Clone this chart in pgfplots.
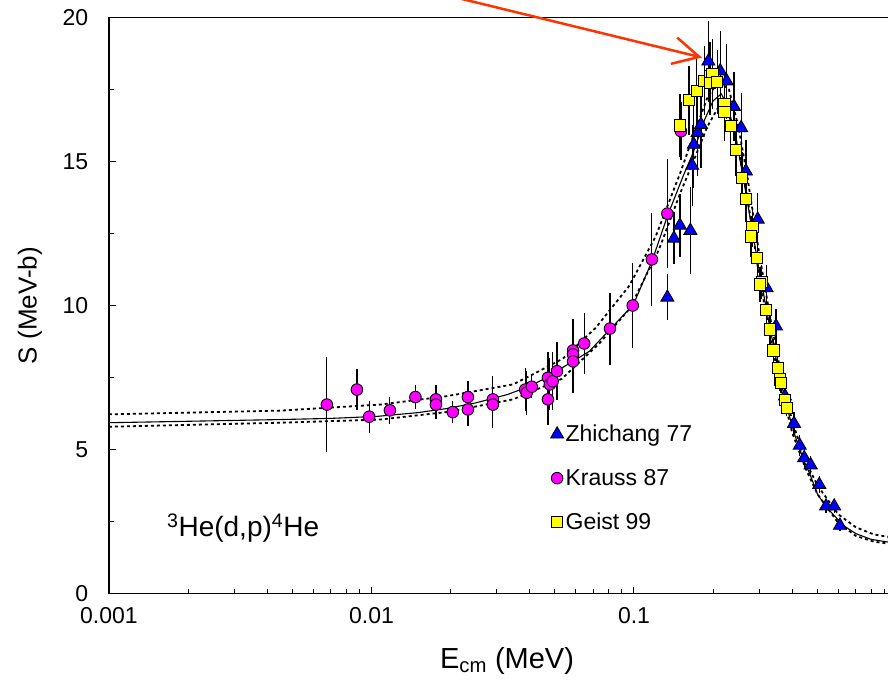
\documentclass[border=0pt]{standalone}
\usepackage{pgfplots}
\pgfplotsset{compat=1.18}
\usepackage{fontspec}
\setmainfont{Liberation Sans}
\usetikzlibrary{arrows.meta}
\definecolor{arrowred}{RGB}{255,51,0}
\definecolor{mblue}{RGB}{0,0,255}
\definecolor{mmag}{RGB}{255,0,255}
\definecolor{myel}{RGB}{255,255,0}

\begin{document}
\begin{tikzpicture}
\begin{axis}[
  name=ax,
  scale only axis, width=782pt, height=576pt,
  xmode=log, xmin=0.001, xmax=0.9529, ymin=0, ymax=20,
  xtick={0.001,0.01,0.1}, xticklabels={0.001,0.01,0.1},
  minor xtick={0.002,0.003,0.004,0.005,0.006,0.007,0.008,0.009,0.02,0.03,0.04,0.05,0.06,0.07,0.08,0.09,0.2,0.3,0.4,0.5,0.6,0.7,0.8,0.9},
  ytick={0,5,10,15,20}, yticklabels={0,5,10,15,20},
  minor ytick={2.5,7.5,12.5,17.5},
  tick pos=left, tick align=inside,
  major tick length=7pt, minor tick length=5pt,
  every tick/.style={black, line width=1pt},
  axis line style={line width=1.3pt},
  ticklabel style={font=\fontsize{23}{27}\selectfont, inner sep=0pt},
  yticklabel shift=20.5pt,
  xticklabel shift=13.5pt,
  xlabel={E\textsubscript{cm} (MeV)}, ylabel={S (MeV-b)},
  xlabel style={font=\fontsize{29}{34}\selectfont, at={(axis description cs:0.509,-0.1175)}, anchor=center},
  ylabel style={font=\fontsize{26}{30}\selectfont, at={(axis description cs:-0.101,0.5)}, anchor=center},
  clip=false,
  legend style={at={(axis description cs:0.5645,0.2960)}, anchor=north west, draw=none, fill=none,
     font=\fontsize{23}{27}\selectfont, row sep=22pt, inner sep=0pt},
  legend cell align=left,
  legend image code/.code={\draw[#1] plot coordinates {(0pt,0pt)};},
]
% fit curves
\addplot[black, line width=1.1pt, forget plot] coordinates {
(0.001,5.93)(0.002,5.98)(0.0045,6.04)(0.007,6.08)(0.0105,6.15)(0.015,6.28)(0.0193,6.42)(0.025,6.62)(0.033,6.91)(0.04,7.2)(0.047,7.52)(0.052,7.78)(0.0676,8.41)(0.081,9.17)(0.0995,10.03)(0.1171,11.54)(0.134,13.1)(0.154,14.5)(0.168,15.3)(0.186,16.46)(0.2,17.1)(0.215,17.35)(0.228,16.9)(0.245,15.8)(0.26,14.5)(0.28,12.8)(0.3,11.2)(0.33,9.2)(0.355,7.75)(0.38,6.55)(0.41,5.5)(0.44,4.7)(0.47,4.1)(0.5,3.45)(0.54,3.0)(0.58,2.7)(0.63,2.35)(0.7,2.08)(0.8,1.88)(0.9529,1.77)};
\addplot[black, line width=1.8pt, dash pattern=on 3pt off 3pt, forget plot] coordinates {
(0.001,6.22)(0.0045,6.35)(0.0108,6.56)(0.0193,6.85)(0.0346,7.26)(0.040,7.55)(0.0535,8.15)(0.0714,9.22)(0.0957,10.67)(0.121,12.4)(0.15,14.6)(0.17,16.0)(0.19,17.2)(0.21,17.8)(0.23,17.5)(0.25,16.2)(0.27,14.5)(0.3,11.8)(0.33,9.6)(0.36,7.8)(0.4,6.0)(0.45,4.6)(0.5,3.75)(0.6,2.75)(0.7,2.3)(0.82,2.05)(0.9529,1.95)};
\addplot[black, line width=1.8pt, dash pattern=on 3pt off 3pt, forget plot] coordinates {
(0.001,5.79)(0.0045,5.93)(0.0108,6.04)(0.0193,6.30)(0.0346,6.74)(0.053,7.45)(0.0741,8.7)(0.0957,9.86)(0.1245,11.94)(0.15,13.9)(0.17,15.1)(0.19,16.2)(0.21,16.9)(0.23,16.6)(0.25,15.4)(0.27,13.8)(0.3,11.0)(0.33,8.95)(0.36,7.3)(0.4,5.6)(0.45,4.35)(0.5,3.45)(0.6,2.45)(0.7,2.0)(0.82,1.8)(0.9529,1.72)};

% Zhichang 77
\addplot[only marks, mark=triangle*, mark size=7.5pt, mark options={fill=mblue, draw=black, line width=0.9pt},
  error bars/.cd, y dir=both, y explicit, error bar style={black, line width=1.2pt}, error mark=none]
table[x=x, y=y, y error=e] {
x y e
0.134 10.28 0.8
0.142 12.33 0.9
0.1496 12.78 1.1
0.164 12.60 1.5
0.1666 14.86 1.4
0.169 15.59 1.5
0.1746 16.0 1.5
0.180 16.28 1.5
0.192 18.48 1.4
0.213 18.14 1.4
0.2255 17.79 1.3
0.2405 16.9 1.2
0.256 16.17 1.2
0.267 14.66 1.1
0.296 12.99 0.9
0.320 10.61 0.8
0.3475 9.28 0.6
0.376 6.85 0.5
0.407 5.90 0.4
0.428 5.14 0.35
0.445 4.71 0.35
0.471 4.46 0.3
0.508 3.78 0.3
0.539 3.03 0.25
0.579 3.03 0.25
0.609 2.36 0.2
};
\addlegendentry{Zhichang 77}

% Krauss 87
\addplot[only marks, mark=*, mark size=5.8pt, mark options={fill=mmag, draw=black, line width=0.9pt},
  error bars/.cd, y dir=both, y explicit, error bar style={black, line width=1.2pt}, error mark=none]
table[x=x, y=y, y error=e] {
x y e
0.00676 6.56 1.65
0.0088 7.08 0.70
0.0098 6.14 0.55
0.01175 6.36 0.48
0.0147 6.82 0.42
0.0176 6.74 0.49
0.0176 6.56 0.49
0.0204 6.30 0.39
0.0233 6.82 0.57
0.0233 6.39 0.57
0.0290 6.74 0.8
0.0290 6.56 0.8
0.0385 7.08 0.76
0.0390 6.97 0.76
0.0408 7.18 0.4
0.0470 6.74 0.9
0.0470 7.49 0.9
0.0478 7.26 0.9
0.0490 7.37 1.0
0.0509 7.72 1.0
0.0586 8.44 1.1
0.0586 8.30 1.1
0.0586 8.06 1.1
0.0646 8.68 1.07
0.081 9.2 1.25
0.0989 10.0 1.48
0.117 11.6 1.6
0.134 13.19 1.9
0.151 16.05 1.0
};
\addlegendentry{Krauss 87}

% Geist 99
\addplot[only marks, mark=square*, mark size=5.6pt, mark options={fill=myel, draw=black, line width=0.9pt},
  error bars/.cd, y dir=both, y explicit, error bar style={black, line width=1.2pt}, error mark=none]
table[x=x, y=y, y error=e] {
x y e
0.1497 16.25 1.1
0.162 17.13 1.2
0.1735 17.44 1.2
0.1853 17.81 1.2
0.1947 17.96 1.2
0.199 18.04 1.2
0.1947 17.73 1.1
0.2075 17.76 1.1
0.221 17.01 1.0
0.221 16.71 1.0
0.2335 16.23 1.0
0.2445 15.40 0.9
0.258 14.42 0.9
0.267 13.70 0.8
0.2825 12.73 0.7
0.279 12.40 0.7
0.295 11.66 0.7
0.3066 10.82 0.6
0.302 10.73 0.6
0.3186 9.84 0.5
0.3298 9.17 0.5
0.3396 8.44 0.4
0.3527 7.84 0.4
0.360 7.43 0.4
0.363 7.32 0.35
0.376 6.71 0.35
0.382 6.45 0.3
};
\addlegendentry{Geist 99}

\node[anchor=base west, font=\fontsize{28}{32}\selectfont, inner sep=0pt] at (axis cs:0.001663,1.98) {\textsuperscript{3}He(d,p)\textsuperscript{4}He};

\draw[arrowred, line width=2.5pt, -{Straight Barb[length=26pt, width=27pt, line width=2.5pt]}] (axis cs:0.02173,20.66) -- (axis cs:0.1815,18.61);
\end{axis}
\pgfresetboundingbox
\path[use as bounding box] ([xshift=-109pt,yshift=-86.5pt]ax.south west) rectangle ([xshift=-3pt,yshift=17.5pt]ax.north east);
\end{tikzpicture}
\end{document}
